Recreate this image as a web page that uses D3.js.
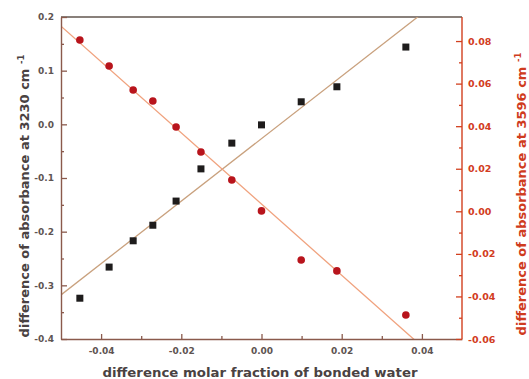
<!DOCTYPE html>
<html>
<head>
<meta charset="utf-8">
<script src="https://cdn.jsdelivr.net/npm/d3@7"></script>
<style>
  html, body { margin: 0; padding: 0; background: #fff; }
  svg { display: block; }
  text { font-family: "DejaVu Sans", "Liberation Sans", sans-serif; }
</style>
</head>
<body>
<svg id="chart" width="529" height="379"></svg>
<script>
// ---- data ----
const molarFraction = [-0.0453, -0.0380, -0.0320, -0.0271, -0.0213, -0.0151, -0.0074, 0.0000, 0.0099, 0.0188, 0.0360];
const abs3230 = [-0.324, -0.266, -0.217, -0.188, -0.143, -0.083, -0.035, -0.001, 0.042, 0.070, 0.144];
const abs3596 = [0.0805, 0.0683, 0.0570, 0.0518, 0.0396, 0.0279, 0.0147, 0.0002, -0.0229, -0.0280, -0.0487];

const xTicks = [-0.04, -0.02, 0.00, 0.02, 0.04];
const xTickLabels = ["-0.04", "-0.02", "0.00", "0.02", "0.04"];
const xMinor = [-0.03, -0.01, 0.01, 0.03];
const yLeftTicks = [-0.4, -0.3, -0.2, -0.1, 0.0, 0.1, 0.2];
const yLeftTickLabels = ["-0.4", "-0.3", "-0.2", "-0.1", "0.0", "0.1", "0.2"];
const yLeftMinor = [-0.35, -0.25, -0.15, -0.05, 0.05, 0.15];
const yRightTicks = [-0.06, -0.04, -0.02, 0.00, 0.02, 0.04, 0.06, 0.08];
const yRightTickLabels = ["-0.06", "-0.04", "-0.02", "0.00", "0.02", "0.04", "0.06", "0.08"];
const yRightMinor = [-0.05, -0.03, -0.01, 0.01, 0.03, 0.05, 0.07];

const xTitle = "difference molar fraction of bonded water";
const yLeftTitle = "difference of absorbance at 3230 cm";
const yRightTitle = "difference of absorbance at 3596 cm";

// ---- layout ----
const L = 61, R = 462, T = 17, B = 339;
const svg = d3.select("#chart");

const x = d3.scaleLinear().domain([-0.05, 0.05]).range([L, R]);
const yL = d3.scaleLinear().domain([-0.4, 0.2]).range([B, T]);
const yR = d3.scaleLinear().domain([-0.06, 0.0913]).range([B, T]);

const brown = "#8a5a4c", redAx = "#d2401f", labelGrey = "#5e5452", titleGrey = "#4a4242";

function regress(xs, ys) {
  const mx = d3.mean(xs), my = d3.mean(ys);
  let sxy = 0, sxx = 0;
  xs.forEach((v, i) => { sxy += (v - mx) * (ys[i] - my); sxx += (v - mx) ** 2; });
  const b = sxy / sxx;
  return { slope: b, intercept: my - b * mx };
}

svg.append("clipPath").attr("id", "plotclip")
  .append("rect").attr("x", L).attr("y", T).attr("width", R - L).attr("height", B - T);

// top frame line
svg.append("line").attr("x1", L).attr("x2", R).attr("y1", T).attr("y2", T)
  .attr("stroke", "#62564f").attr("stroke-width", 1.3);

// fit lines
const plot = svg.append("g").attr("clip-path", "url(#plotclip)");
const fitB = regress(molarFraction, abs3230);
const fitR = regress(molarFraction, abs3596);
const xEnds = x.domain();
plot.append("path")
  .attr("d", d3.line()(xEnds.map(v => [x(v), yL(fitB.intercept + fitB.slope * v)])))
  .attr("stroke", "#c9a17e").attr("stroke-width", 1.3).attr("fill", "none");
plot.append("path")
  .attr("d", d3.line()(xEnds.map(v => [x(v), yR(fitR.intercept + fitR.slope * v)])))
  .attr("stroke", "#f0a27e").attr("stroke-width", 1.3).attr("fill", "none");

// markers
const sq = 7;
svg.append("g").selectAll("rect").data(molarFraction).join("rect")
  .attr("x", (d) => x(d) - sq / 2)
  .attr("y", (d, i) => yL(abs3230[i]) - sq / 2)
  .attr("width", sq).attr("height", sq)
  .attr("fill", "#1e1c1c");
svg.append("g").selectAll("circle").data(molarFraction).join("circle")
  .attr("cx", (d) => x(d))
  .attr("cy", (d, i) => yR(abs3596[i]))
  .attr("r", 3.8)
  .attr("fill", "#b8141c");

// axes
function styleAxis(g, color, labelColor, fontSize) {
  g.select(".domain").attr("stroke", color).attr("stroke-width", 1.4);
  g.selectAll(".tick line").attr("stroke", color).attr("stroke-width", 1.3);
  g.selectAll(".tick text").attr("fill", labelColor)
    .style("font-size", fontSize + "px").style("font-weight", "bold")
    .style("font-family", "'DejaVu Sans', sans-serif");
}

// bottom
const gx = svg.append("g").attr("transform", `translate(0,${B})`)
  .call(d3.axisBottom(x).tickValues(xTicks)
    .tickFormat((d, i) => xTickLabels[i]).tickSizeInner(-5).tickSizeOuter(0).tickPadding(9));
styleAxis(gx, brown, labelGrey, 9);
svg.append("g").attr("transform", `translate(0,${B})`)
  .call(d3.axisBottom(x).tickValues(xMinor).tickFormat("").tickSizeInner(-3).tickSizeOuter(0))
  .call(g => { g.select(".domain").remove(); g.selectAll("line").attr("stroke", brown).attr("stroke-width", 1.3); });

// left
const gl = svg.append("g").attr("transform", `translate(${L},0)`)
  .call(d3.axisLeft(yL).tickValues(yLeftTicks)
    .tickFormat((d, i) => yLeftTickLabels[i]).tickSizeInner(-6).tickSizeOuter(0).tickPadding(7));
styleAxis(gl, brown, labelGrey, 9);
svg.append("g").attr("transform", `translate(${L},0)`)
  .call(d3.axisLeft(yL).tickValues(yLeftMinor).tickFormat("").tickSizeInner(-3).tickSizeOuter(0))
  .call(g => { g.select(".domain").remove(); g.selectAll("line").attr("stroke", brown).attr("stroke-width", 1.3); });

// right
const gr = svg.append("g").attr("transform", `translate(${R},0)`)
  .call(d3.axisRight(yR).tickValues(yRightTicks)
    .tickFormat((d, i) => yRightTickLabels[i]).tickSizeInner(-6).tickSizeOuter(0).tickPadding(6));
gr.select(".domain").attr("d", `M0,${T}V${B}`);
styleAxis(gr, redAx, "#d23c22", 9.5);
svg.append("g").attr("transform", `translate(${R},0)`)
  .call(d3.axisRight(yR).tickValues(yRightMinor).tickFormat("").tickSizeInner(-3).tickSizeOuter(0))
  .call(g => { g.select(".domain").remove(); g.selectAll("line").attr("stroke", redAx).attr("stroke-width", 1.3); });

// titles
svg.append("text")
  .attr("x", 260).attr("y", 377)
  .attr("text-anchor", "middle")
  .attr("textLength", 315).attr("lengthAdjust", "spacingAndGlyphs")
  .attr("fill", titleGrey).style("font-size", "13px").style("font-weight", "bold")
  .text(xTitle);

function vTitle(cx, cy, txt, color) {
  const t = svg.append("text")
    .attr("transform", `translate(${cx},${cy}) rotate(-90)`)
    .attr("text-anchor", "middle")
    .attr("fill", color).style("font-size", "13px").style("font-weight", "bold");
  t.append("tspan").text(txt + " ");
  t.append("tspan").attr("dy", -5).style("font-size", "8.5px").text("-1");
}
vTitle(29, 196, yLeftTitle, titleGrey);
vTitle(526, 194, yRightTitle, "#cf3b20");
</script>
</body>
</html>
